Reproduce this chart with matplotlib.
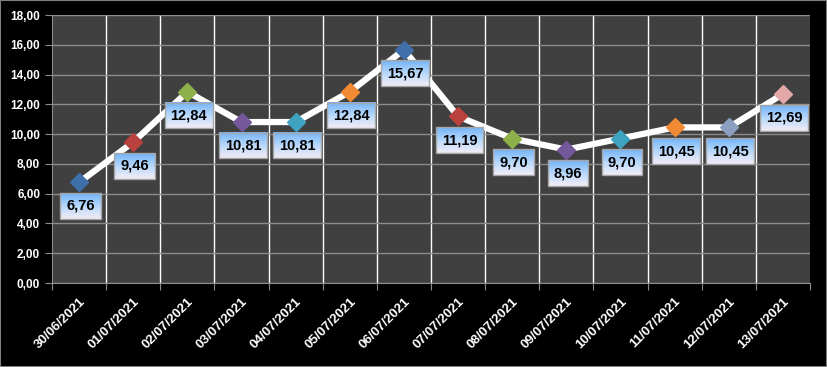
import numpy as np
import matplotlib
matplotlib.use("Agg")
import matplotlib.pyplot as plt
from matplotlib.colors import LinearSegmentedColormap
from matplotlib.ticker import FixedLocator, FuncFormatter
from matplotlib.patches import Rectangle

plt.rcParams["font.family"] = ["Liberation Sans", "DejaVu Sans"]

# Data
dates = ["30/06/2021", "01/07/2021", "02/07/2021", "03/07/2021", "04/07/2021",
         "05/07/2021", "06/07/2021", "07/07/2021", "08/07/2021", "09/07/2021",
         "10/07/2021", "11/07/2021", "12/07/2021", "13/07/2021"]
values = [6.76, 9.46, 12.84, 10.81, 10.81, 12.84, 15.67, 11.19, 9.70, 8.96,
          9.70, 10.45, 10.45, 12.69]
marker_colors = ["#3E6FA8", "#B9423F", "#8DB04A", "#74589A", "#3EA3C0", "#F08A33",
                 "#3E6FA8", "#B9423F", "#8DB04A", "#74589A", "#3EA3C0", "#F08A33",
                 "#8C9FC0", "#E3A9A8"]

fig = plt.figure(figsize=(8.27, 3.67), dpi=100, facecolor="black")
ax = fig.add_axes([52 / 827, 84 / 367, 758 / 827, 268 / 367])
ax.set_facecolor("#404040")

x = np.arange(len(values))

# line and markers
ax.plot(x, values, color="white", lw=4.5, zorder=3, solid_capstyle="round")
for xi, v, c in zip(x, values, marker_colors):
    ax.plot(xi, v, marker="D", ms=9, color=c, mec=c, zorder=4)

ax.set_xlim(-0.5, len(values) - 0.5)
ax.set_ylim(0, 18)

# grid
ax.set_yticks(np.arange(0, 18.1, 2))
ax.yaxis.set_major_formatter(FuncFormatter(lambda v, p: f"{v:.2f}".replace(".", ",")))
ax.grid(axis="y", color="#8C8C8C", lw=1, zorder=1)
for b in np.arange(0.5, len(values) - 0.5, 1):
    ax.axvline(b, color="white", lw=1, zorder=1)

ax.xaxis.set_major_locator(FixedLocator(np.arange(-0.5, len(values), 1)))
ax.xaxis.set_major_formatter(FuncFormatter(lambda v, p: ""))
ax.xaxis.set_minor_locator(FixedLocator(x))
ax.set_xticklabels(dates, minor=True)
ax.tick_params(axis="x", which="major", length=5, color="#8C8C8C")
ax.tick_params(axis="x", which="minor", length=0, pad=9)
ax.tick_params(axis="y", length=5, color="#8C8C8C", labelsize=8.5, labelcolor="white")
for lab in ax.get_xticklabels(minor=True):
    lab.set_rotation(45)
    lab.set_ha("right")
    lab.set_va("top")
    lab.set_rotation_mode("anchor")
    lab.set_fontsize(9.5)
    lab.set_fontweight("bold")
    lab.set_color("white")
for lab in ax.get_yticklabels():
    lab.set_fontweight("bold")

for s in ["top", "right"]:
    ax.spines[s].set_visible(False)
for s in ["left", "bottom"]:
    ax.spines[s].set_color("#8C8C8C")

# data labels
labels = []
for xi, v in zip(x, values):
    t = ax.annotate(f"{v:.2f}".replace(".", ","), (xi, v), xytext=(1, -17),
                    textcoords="offset points", ha="center", va="center",
                    fontsize=10.5, fontweight="bold", color="black", zorder=6,
                    bbox=dict(boxstyle="square,pad=0.4", fc="none", ec="#A6A6A6", lw=1))
    labels.append(t)

# gradient fill behind labels (blue at top, pale at bottom)
cmap = LinearSegmentedColormap.from_list("lbl", ["#72B3F7", "#B7D8FB", "#F3EDF7"])
grad = np.linspace(0, 1, 64).reshape(-1, 1)
fig.canvas.draw()
renderer = fig.canvas.get_renderer()
inv = ax.transData.inverted()
for t in labels:
    bb = t.get_bbox_patch().get_window_extent(renderer)
    (x0, y0), (x1, y1) = inv.transform([[bb.x0, bb.y0], [bb.x1, bb.y1]])
    ax.imshow(grad, extent=(x0, x1, y0, y1), origin="upper", aspect="auto",
              cmap=cmap, zorder=5, interpolation="bilinear")
ax.set_xlim(-0.5, len(values) - 0.5)
ax.set_ylim(0, 18)

# outer border
fig.patches.append(Rectangle((0, 0), 1, 1, transform=fig.transFigure, fill=False,
                             ec="#7F7F7F", lw=1.5))

fig.savefig("out.png", dpi=100, facecolor="black")
